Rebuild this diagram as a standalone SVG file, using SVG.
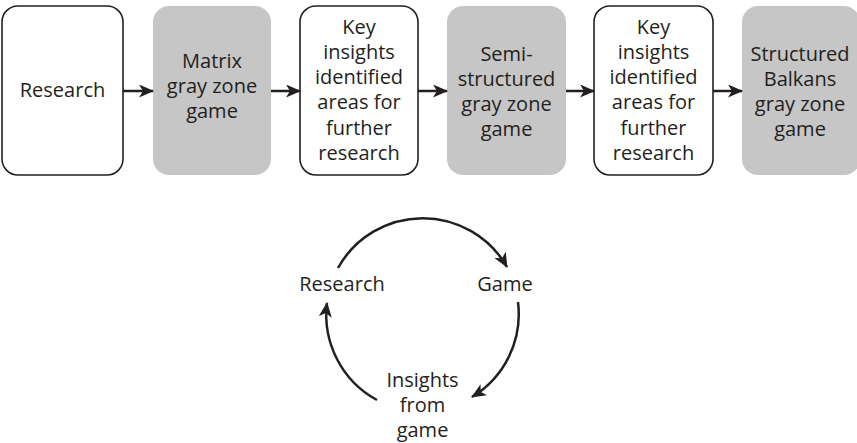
<svg xmlns="http://www.w3.org/2000/svg" width="857" height="443" viewBox="0 0 857 443">
<style>
.box{stroke:#231f20;stroke-width:1.6;fill:#fff}
.gray{fill:#c6c6c6;stroke:none}
text{font-family:"Open Sans","Noto Sans",sans-serif;font-size:20px;fill:#231f20;text-anchor:middle}
.con{stroke:#231f20;stroke-width:2.5;fill:none}
</style>
<defs>
<marker id="ah" markerUnits="userSpaceOnUse" markerWidth="15" markerHeight="13" refX="14" refY="6.5" orient="auto" viewBox="0 0 15 13">
<path d="M0,0 L15,6.5 L0,13 L4,6.5 z" fill="#231f20"/>
</marker>
</defs>
<rect width="857" height="443" fill="#fff"/>
<g id="n1"><rect class="box" x="2" y="6" width="121" height="169" rx="16"/><text x="62.5" y="97">Research</text></g>
<g id="n2"><rect class="gray" x="153" y="6" width="118" height="169" rx="16"/><text x="212" y="68">Matrix</text><text x="212" y="93">gray zone</text><text x="212" y="118">game</text></g>
<g id="n3"><rect class="box" x="300" y="6" width="118" height="169" rx="16"/><text x="359" y="33.5">Key</text><text x="359" y="58.8">insights</text><text x="359" y="84.1">identified</text><text x="359" y="109.4">areas for</text><text x="359" y="134.7">further</text><text x="359" y="160">research</text></g>
<g id="n4"><rect class="gray" x="447" y="6" width="119" height="169" rx="16"/><text x="506.5" y="61">Semi-</text><text x="506.5" y="86">structured</text><text x="506.5" y="111">gray zone</text><text x="506.5" y="136">game</text></g>
<g id="n5"><rect class="box" x="594" y="6" width="119" height="169" rx="16"/><text x="653.5" y="33.5">Key</text><text x="653.5" y="58.8">insights</text><text x="653.5" y="84.1">identified</text><text x="653.5" y="109.4">areas for</text><text x="653.5" y="134.7">further</text><text x="653.5" y="160">research</text></g>
<g id="n6"><rect class="gray" x="742" y="6" width="118" height="169" rx="16"/><text x="800" y="61">Structured</text><text x="800" y="86">Balkans</text><text x="800" y="111">gray zone</text><text x="800" y="136">game</text></g>
<g id="c1"><text x="342" y="291">Research</text></g>
<g id="c2"><text x="505" y="291">Game</text></g>
<g id="c3"><text x="422.5" y="387">Insights</text><text x="422.5" y="412">from</text><text x="422.5" y="437">game</text></g>
<g id="connectors">
<line class="con" x1="123" y1="91" x2="153" y2="91" marker-end="url(#ah)"/>
<line class="con" x1="271" y1="91" x2="300" y2="91" marker-end="url(#ah)"/>
<line class="con" x1="418" y1="91" x2="447" y2="91" marker-end="url(#ah)"/>
<line class="con" x1="566" y1="91" x2="594" y2="91" marker-end="url(#ah)"/>
<line class="con" x1="713" y1="91" x2="742" y2="91" marker-end="url(#ah)"/>
<path class="con" d="M338,268 A97,97 0 0 1 507,267" marker-end="url(#ah)"/>
<path class="con" d="M518,302 A97,97 0 0 1 472,397" marker-end="url(#ah)"/>
<path class="con" d="M377,400 A97,97 0 0 1 327,303" marker-end="url(#ah)"/>
</g>
</svg>
